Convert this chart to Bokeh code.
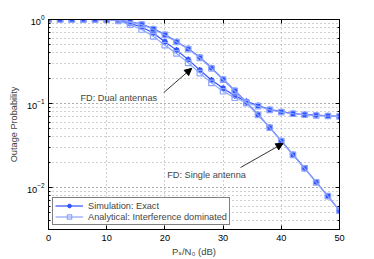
from bokeh.plotting import figure
from bokeh.models import (Range1d, LogAxis, LinearAxis, Label, Arrow, NormalHead,
                          Legend, LegendItem, FixedTicker, CustomJSTickFormatter)
from bokeh.embed import file_html
from bokeh.resources import INLINE

# ---- data -------------------------------------------------------------
snr_db = [0, 2, 4, 6, 8, 10, 12, 14, 16, 18, 20, 22, 24, 26, 28, 30, 32, 34,
          36, 38, 40, 42, 44, 46, 48, 50]

single_sim = [1.0, 1.0, 1.0, 1.0, 1.0, 0.998, 0.99, 0.94, 0.88, 0.775, 0.665,
              0.545, 0.452, 0.356, 0.266, 0.195, 0.143, 0.104, 0.074, 0.052,
              0.036, 0.0247, 0.017, 0.0116, 0.0079, 0.0053]
single_ana = [1.0, 1.0, 1.0, 1.0, 1.0, 0.997, 0.985, 0.93, 0.87, 0.765, 0.655,
              0.54, 0.445, 0.35, 0.262, 0.192, 0.141, 0.102, 0.073, 0.0515,
              0.0357, 0.0245, 0.0169, 0.0115, 0.0079, 0.0053]
dual_sim = [1.0, 1.0, 1.0, 1.0, 1.0, 0.995, 0.975, 0.9, 0.815, 0.69, 0.543,
            0.432, 0.333, 0.25, 0.19, 0.152, 0.124, 0.106, 0.0946, 0.085,
            0.08, 0.076, 0.074, 0.0726, 0.0714, 0.0706]
dual_ana = [1.0, 1.0, 1.0, 1.0, 1.0, 0.993, 0.96, 0.87, 0.76, 0.63, 0.495,
            0.395, 0.305, 0.23, 0.176, 0.14, 0.117, 0.102, 0.093, 0.084,
            0.079, 0.0755, 0.0735, 0.072, 0.071, 0.070]

x_ticks = [0, 10, 20, 30, 40, 50]
legend_labels = ["Simulation: Exact", "Analytical: Interference dominated"]
ann_dual = "FD: Dual antennas"
ann_single = "FD: Single antenna"
y_label = "Outage Probability"
x_label = "P\u209b/N\u2080 (dB)"

SIM_C = "#2f52ff"
ANA_C = "#8da4ff"
FONT = "Liberation Sans"
YMIN, YMAX = 10 ** -2.5, 1.0

p = figure(width=374, height=259, y_axis_type="log",
           x_range=Range1d(0, 50), y_range=Range1d(YMIN, YMAX),
           output_backend="svg", toolbar_location=None,
           min_border_left=48, min_border_right=35, min_border_top=19,
           min_border_bottom=30)
p.outline_line_color = "black"
p.outline_line_width = 1
p.background_fill_color = "white"
p.border_fill_color = "white"

# axes styling
for ax in (p.xaxis[0], p.yaxis[0]):
    ax.axis_line_color = "black"
    ax.major_tick_in = 4
    ax.major_tick_out = 0
    ax.minor_tick_in = 2
    ax.minor_tick_out = 0
    ax.major_label_text_font = FONT
    ax.major_label_text_font_size = "9.2px"
    ax.major_label_text_color = "black"
p.xaxis[0].ticker = FixedTicker(ticks=x_ticks)
p.xaxis[0].minor_tick_line_color = None
p.xaxis[0].major_label_standoff = 5
p.xaxis[0].axis_label = x_label
p.xaxis[0].axis_label_text_font = "Liberation Sans, DejaVu Sans"
p.xaxis[0].axis_label_text_font_size = "9.5px"
p.xaxis[0].axis_label_text_font_style = "normal"
p.xaxis[0].axis_label_standoff = 2
p.yaxis[0].major_label_standoff = 4
p.yaxis[0].axis_label = y_label
p.yaxis[0].axis_label_text_font = FONT
p.yaxis[0].axis_label_text_font_size = "9.2px"
p.yaxis[0].axis_label_text_font_style = "normal"
p.yaxis[0].axis_label_standoff = 5

top = LinearAxis(ticker=FixedTicker(ticks=x_ticks), major_tick_in=4,
                 major_tick_out=0, minor_tick_line_color=None,
                 formatter=CustomJSTickFormatter(code="return ''"),
                 major_label_standoff=0, axis_line_color="black")
right = LogAxis(major_tick_in=4, major_tick_out=0, minor_tick_in=2,
                minor_tick_out=0, formatter=CustomJSTickFormatter(code="return ''"),
                major_label_standoff=0, axis_line_color="black")
p.add_layout(top, "above")
p.add_layout(right, "right")

# grid
p.xgrid.ticker = FixedTicker(ticks=x_ticks)
p.xgrid.grid_line_color = "#a0a0a0"
p.xgrid.grid_line_dash = "1 3"
p.ygrid.grid_line_color = "#a0a0a0"
p.ygrid.grid_line_dash = "1 3"
p.ygrid.minor_grid_line_color = "#a0a0a0"
p.ygrid.minor_grid_line_dash = "1 3"

# curves
items_sim, items_ana = [], []
for ys in (single_sim, dual_sim):
    l = p.line(snr_db, ys, line_color=SIM_C, line_width=1.2)
    s = p.scatter(snr_db, ys, marker="asterisk", size=6, line_color=SIM_C,
                  line_width=1.6)
    items_sim += [l, s]
for ys in (single_ana, dual_ana):
    l = p.line(snr_db, ys, line_color=ANA_C, line_width=1.2)
    s = p.scatter(snr_db, ys, marker="square", size=5.5, line_color=ANA_C,
                  fill_color=None, line_width=1.2)
    items_ana += [l, s]

legend = Legend(items=[LegendItem(label=legend_labels[0], renderers=items_sim[:2]),
                       LegendItem(label=legend_labels[1], renderers=items_ana[:2])],
                location="bottom_left", margin=4, padding=2, spacing=0,
                label_text_font=FONT, label_text_font_size="9.2px",
                label_height=11, glyph_height=11, glyph_width=28,
                label_standoff=5, border_line_color="black",
                border_line_width=1, background_fill_alpha=1)
p.add_layout(legend, "center")

# annotations
p.add_layout(Label(x=5.5, y=0.115, text=ann_dual, text_font=FONT,
                   text_font_size="9.2px", text_baseline="middle"))
p.add_layout(Label(x=20.4, y=0.0139, text=ann_single, text_font=FONT,
                   text_font_size="9.2px", text_baseline="middle"))
p.add_layout(Arrow(x_start=19.8, y_start=0.135, x_end=24.6, y_end=0.262,
                   line_width=0.8, line_color="black",
                   end=NormalHead(size=7, fill_color="black", line_color="black")))
p.add_layout(Arrow(x_start=33.0, y_start=0.0173, x_end=40.3, y_end=0.0335,
                   line_width=0.8, line_color="black",
                   end=NormalHead(size=7, fill_color="black", line_color="black")))

open("out.html", "w").write(file_html(p, INLINE))
